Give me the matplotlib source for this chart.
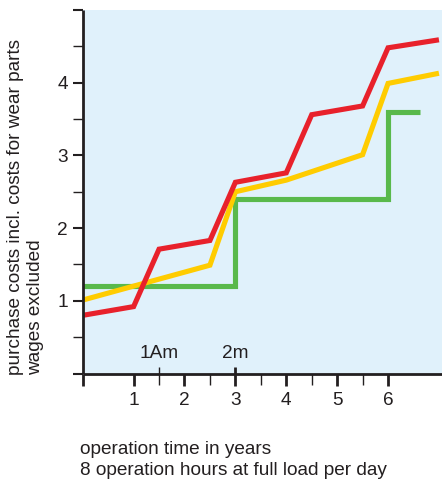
import matplotlib
matplotlib.use("Agg")
import matplotlib.pyplot as plt
from matplotlib.ticker import FixedLocator

plt.rcParams['font.family'] = ['Liberation Sans', 'DejaVu Sans']

# ---- data ----
red_x = [0, 1.0, 1.5, 2.5, 3.0, 4.0, 4.5, 5.5, 6.0, 7.0]
red_y = [0.8, 0.92, 1.71, 1.83, 2.63, 2.76, 3.56, 3.68, 4.48, 4.59]

yellow_x = [0, 2.5, 3.0, 4.0, 5.5, 6.0, 7.0]
yellow_y = [1.01, 1.49, 2.50, 2.66, 3.01, 3.99, 4.13]

green_x = [0, 3.0, 3.0, 6.0, 6.0, 6.63]
green_y = [1.2, 1.2, 2.4, 2.4, 3.6, 3.6]

x_major = [0, 1, 2, 3, 4, 5, 6]
x_major_labels = ['', '1', '2', '3', '4', '5', '6']
x_minor = [1.5, 2.5, 3.5, 4.5, 5.5]
y_major = [0, 1, 2, 3, 4, 5]
y_major_labels = ['', '1', '2', '3', '4', '']
y_minor = [0.5, 1.5, 2.5, 3.5, 4.5]

marker_x = [1.5, 3]
marker_labels = ['1Am', '2m']

ylabel_lines = ['purchase costs incl. costs for wear parts', 'wages excluded']
xlabel_lines = ['operation time in years', '8 operation hours at full load per day']

RED = '#E8212B'
YELLOW = '#FFCC00'
GREEN = '#59B94B'
BG = '#E0F1FB'
FS = 13.7

W, H = 442, 479
fig = plt.figure(figsize=(W / 100, H / 100), dpi=100)
ax = fig.add_axes([82.7 / W, 1 - 373.5 / H, 1 - 82.7 / W, (373.5 - 10) / H])
ax.set_facecolor(BG)

lw = 3.7
ax.plot(green_x, green_y, color=GREEN, lw=lw, solid_joinstyle='miter', solid_capstyle='butt')
ax.plot(yellow_x, yellow_y, color=YELLOW, lw=lw, solid_joinstyle='miter', solid_capstyle='butt')
ax.plot(red_x, red_y, color=RED, lw=lw, solid_joinstyle='miter', solid_capstyle='butt')

ax.set_xlim(0, 7.06)
ax.set_ylim(0, 5)

for s in ['top', 'right']:
    ax.spines[s].set_visible(False)
for s in ['left', 'bottom']:
    ax.spines[s].set_linewidth(2.0)
    ax.spines[s].set_color('#231F20')
    ax.spines[s].set_capstyle('butt')

ax.xaxis.set_major_locator(FixedLocator(x_major))
ax.set_xticklabels(x_major_labels)
ax.xaxis.set_minor_locator(FixedLocator(x_minor))
ax.yaxis.set_major_locator(FixedLocator(y_major))
ax.set_yticklabels(y_major_labels)
ax.yaxis.set_minor_locator(FixedLocator(y_minor))

ax.tick_params(axis='x', which='major', direction='out', length=8.5, width=2.0,
               color='#231F20', labelsize=FS, pad=5, labelcolor='#231F20')
ax.tick_params(axis='x', which='minor', direction='out', length=8.0, width=1.0,
               color='#231F20')
ax.tick_params(axis='y', which='major', direction='out', length=7.5, width=1.5,
               color='#231F20', labelsize=FS, pad=3, labelcolor='#231F20')
ax.tick_params(axis='y', which='minor', direction='out', length=7.5, width=1.0,
               color='#231F20')

# inner marker ticks with labels
trans = ax.get_xaxis_transform()
inner = 6.5 / (373.5 - 10)
widths = [1.0, 2.0]
for xv, lab, w in zip(marker_x, marker_labels, widths):
    ax.plot([xv, xv], [0, inner], transform=trans, color='#231F20', lw=w,
            solid_capstyle='butt', clip_on=False)
    ax.text(xv, 15 / (373.5 - 10), lab, transform=trans, ha='center', va='baseline',
            fontsize=FS, color='#231F20')

# y label lines (rotated)
ybase = [20.5 / W, 40.5 / W]
for xb, t in zip(ybase, ylabel_lines):
    fig.text(xb, 1 - 375 / H, t, rotation=90, rotation_mode='anchor',
             ha='left', va='baseline', fontsize=FS, color='#231F20')

# x label lines
xl_y = [454, 475]
for yb, t in zip(xl_y, xlabel_lines):
    fig.text(80 / W, 1 - yb / H, t, ha='left', va='baseline', fontsize=FS, color='#231F20')

fig.savefig('out.png', dpi=100)
